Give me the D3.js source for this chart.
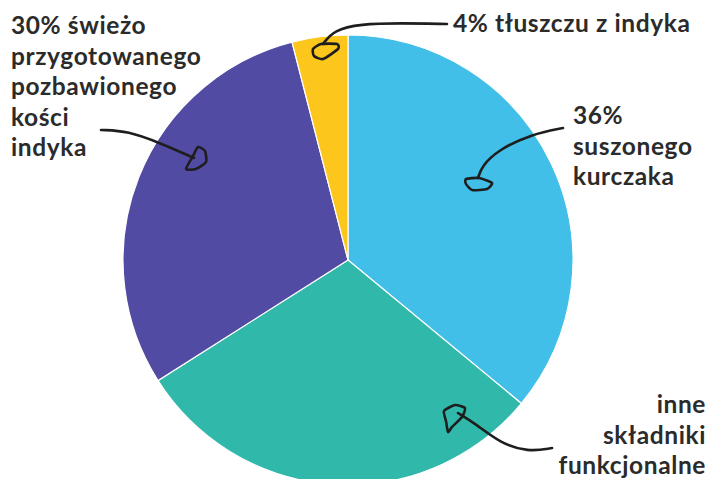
<!DOCTYPE html>
<html>
<head>
<meta charset="utf-8">
<script src="https://cdn.jsdelivr.net/npm/d3@7"></script>
<style>
  html, body { margin: 0; padding: 0; background: #fff; overflow: hidden; }
  svg text { font-family: "Lato", "Open Sans", sans-serif; font-weight: 700; fill: #2b2b2b; letter-spacing: 0.6px; }
</style>
</head>
<body>
<svg id="chart" width="710" height="479"></svg>
<script>
// slices clockwise from 12 o'clock
const names = ["suszony kurczak", "inne składniki funkcjonalne", "świeży indyk", "tłuszcz z indyka"];
const shares = [36, 30, 30, 4];
const colors = ["#41bfe9", "#30b8aa", "#524ba3", "#fcc61d"];
const labels = [
  ["36%", "suszonego", "kurczaka"],
  ["inne", "składniki", "funkcjonalne"],
  ["30% świeżo", "przygotowanego", "pozbawionego", "kości", "indyka"],
  ["4% tłuszczu z indyka"],
];

const W = 710, H = 479;
const cx = 348, cy = 260, R = 225;
const svg = d3.select("#chart");

const pie = d3.pie().sort(null).value(d => d);
const arcs = pie(shares);
const arc = d3.arc().innerRadius(0).outerRadius(R);

const g = svg.append("g").attr("transform", `translate(${cx},${cy})`);
g.selectAll("path").data(arcs).join("path")
  .attr("d", arc)
  .attr("fill", (d, i) => colors[i])
  .attr("stroke", "#fff")
  .attr("stroke-width", 1.2);

// label blocks: [x, first baseline, anchor]
const labelPos = [
  [573, 124, "start"],
  [706, 413, "end"],
  [11, 34, "start"],
  [453, 32, "start"],
];
const lineH = 30.5;
labels.forEach((lines, i) => {
  const [x, y, anchor] = labelPos[i];
  const t = svg.append("text")
    .attr("x", x).attr("y", y)
    .attr("text-anchor", anchor)
    .attr("font-size", 24.5);
  lines.forEach((s, j) => t.append("tspan").attr("x", x).attr("dy", j ? lineH : 0).text(s));
});

// hand-drawn pointers: stem from the label, loopy head on the slice
const pointers = [
  { stem: [[563, 128], [532, 134], [498, 150], [482, 166], [478, 178]],
    head: [[466, 179], [479, 178], [492, 183], [487, 189], [472, 190], [466, 184]] },
  { stem: [[552, 448], [528, 452], [500, 443], [476, 424], [458, 413]],
    head: [[444, 411], [455, 405], [465, 408], [462, 417], [452, 427], [448, 432], [446, 421]] },
  { stem: [[101, 130], [128, 131], [160, 143], [194, 158]],
    head: [[186, 169], [193, 156], [198, 147], [205, 151], [206, 162], [196, 169]] },
  { stem: [[447, 24], [400, 23], [360, 24], [334, 30], [323, 44]],
    head: [[313, 49], [321, 44], [337, 44], [338, 49], [323, 59], [314, 56]] },
];
const stemLine = d3.line().curve(d3.curveBasis);
const headLine = d3.line().curve(d3.curveCardinalClosed.tension(0.4));
pointers.forEach(p => {
  svg.append("path").attr("d", stemLine(p.stem))
    .attr("fill", "none").attr("stroke", "#1e1e1e").attr("stroke-width", 2.6).attr("stroke-linecap", "round");
  svg.append("path").attr("d", headLine(p.head))
    .attr("fill", "none").attr("stroke", "#1e1e1e").attr("stroke-width", 2.6).attr("stroke-linejoin", "round");
});
</script>
</body>
</html>
